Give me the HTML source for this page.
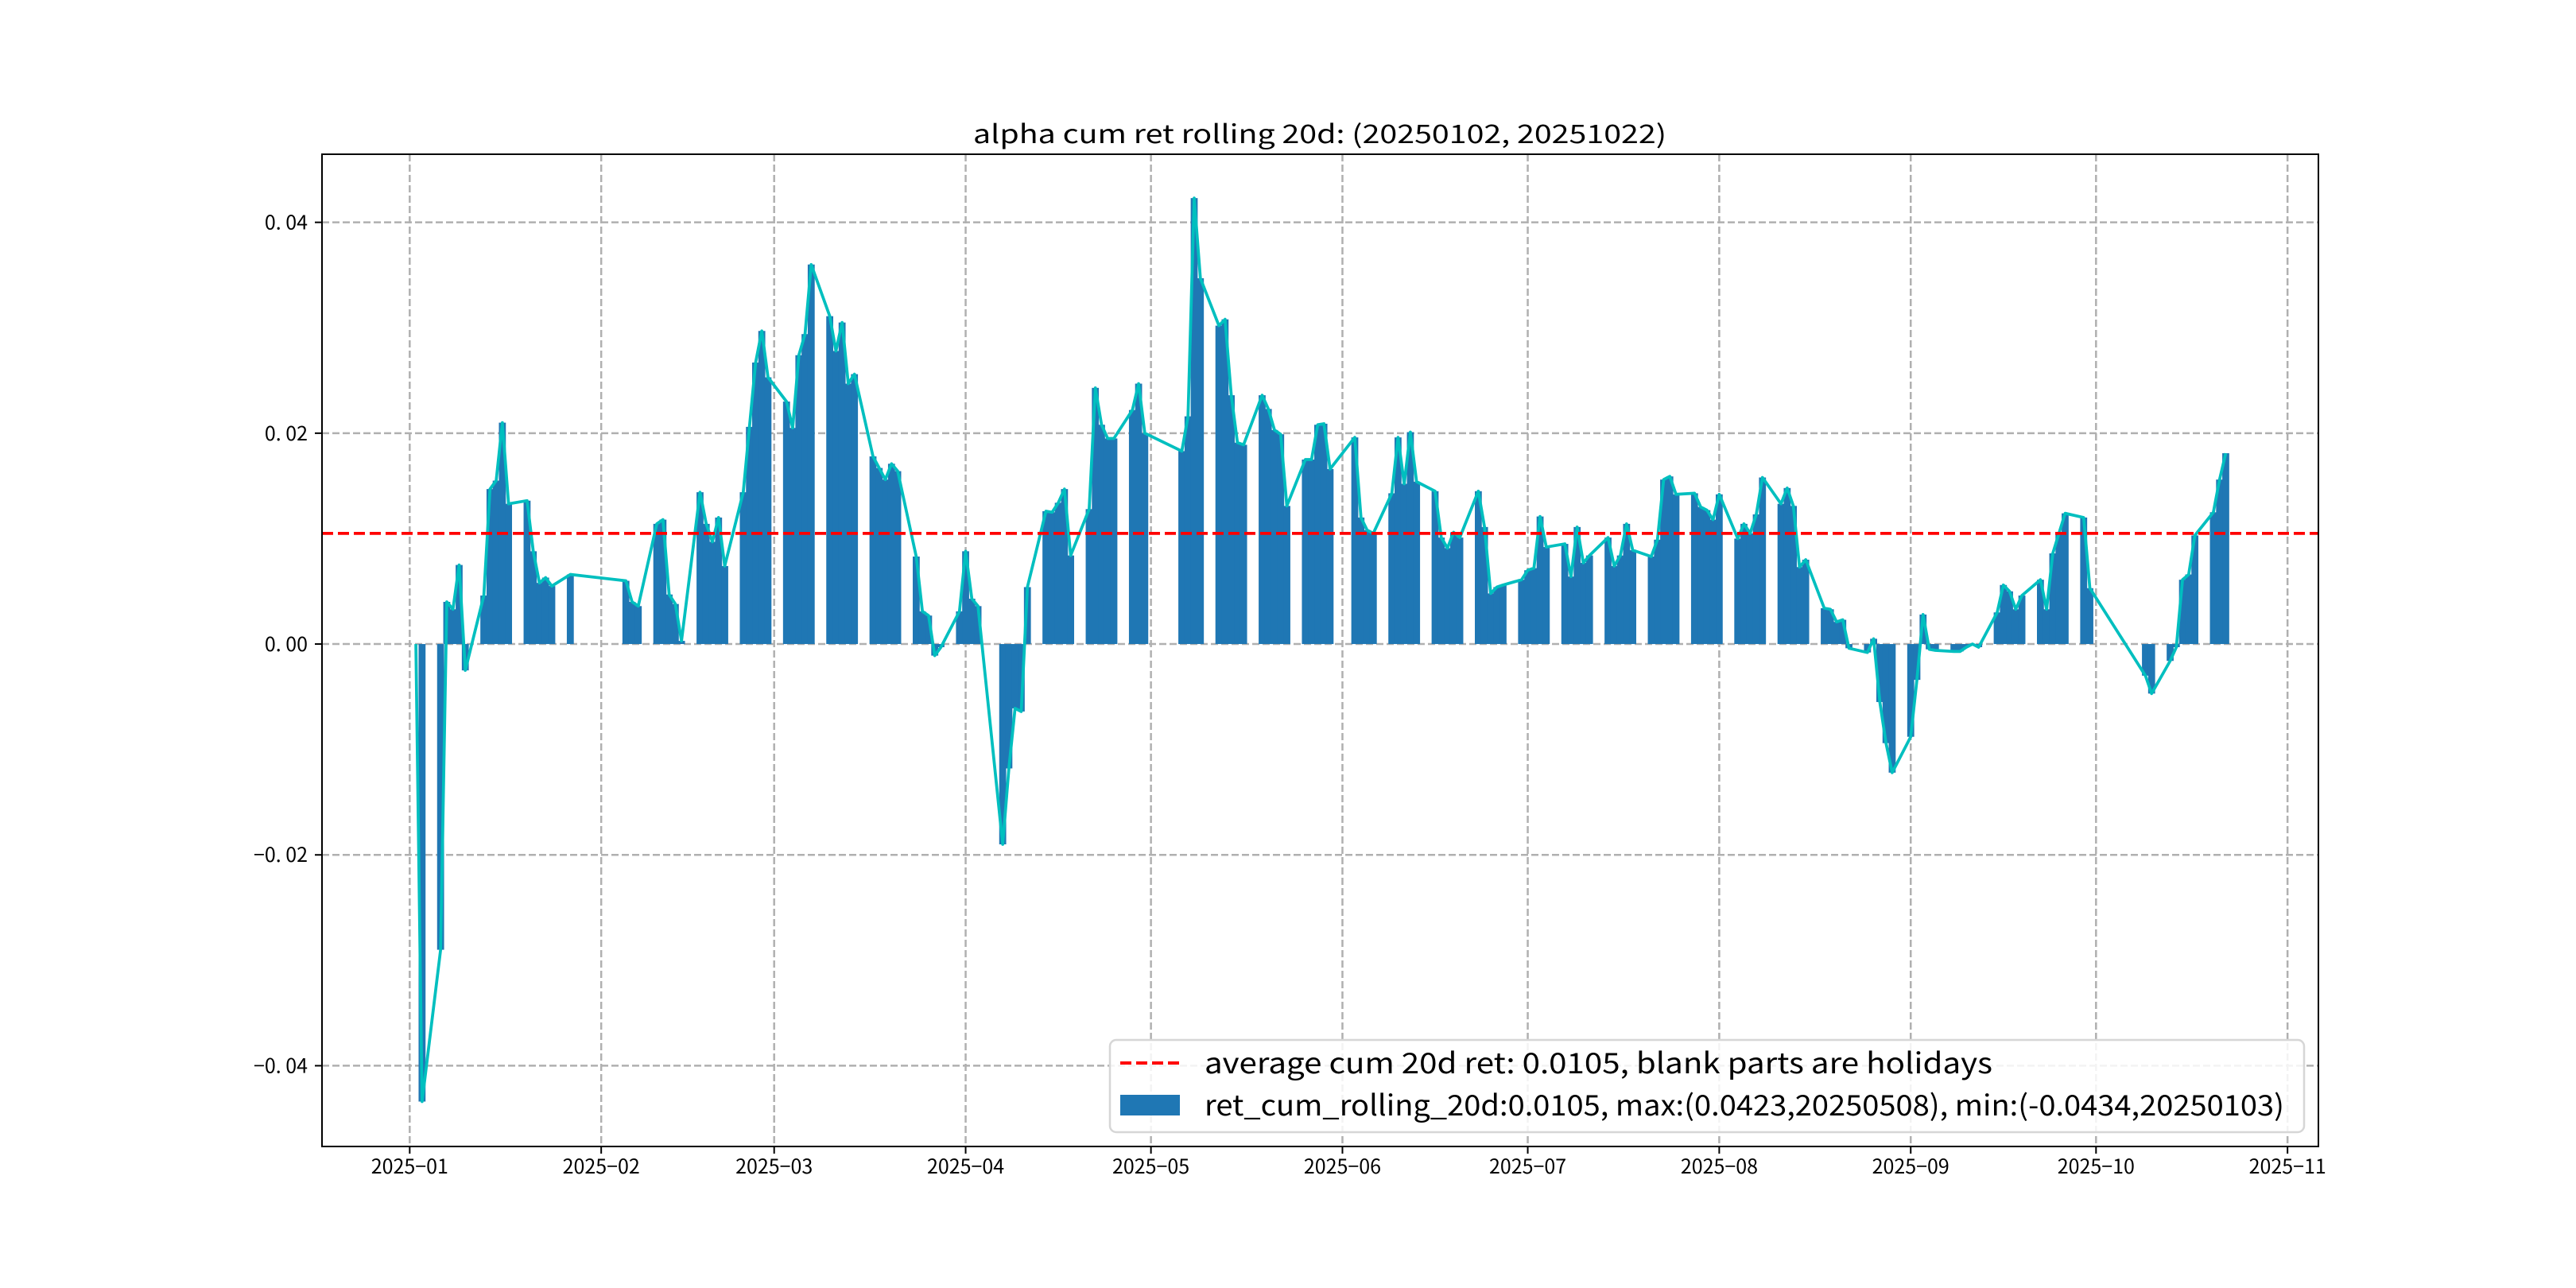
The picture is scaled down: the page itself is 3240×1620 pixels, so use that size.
<!DOCTYPE html>
<html><head><meta charset="utf-8"><title>alpha cum ret rolling 20d</title>
<style>html,body{margin:0;padding:0;background:#fff;}svg{display:block;}
text{font-family:"WenQuanYi Zen Hei","Noto Sans CJK SC","Liberation Sans",sans-serif;}</style></head>
<body>
<svg id="chart" width="3240" height="1620" viewBox="0 0 3240 1620" xmlns="http://www.w3.org/2000/svg">
<rect x="0" y="0" width="3240" height="1620" fill="#fff"/>
<g id="grid"></g>
<g id="bars"></g>
<g id="lines"></g>
<g id="axes"></g>
<text x="1660" y="180" font-size="32" text-anchor="middle" textLength="872" lengthAdjust="spacingAndGlyphs">alpha cum ret rolling 20d: (20250102, 20251022)</text>
<g>
<rect x="1396" y="1308" width="1502" height="116" rx="8" fill="#fff" fill-opacity="0.85" stroke="#d6d6d6" stroke-width="2.5"/>
<line x1="1409" y1="1337" x2="1484" y2="1337" stroke="#ff0000" stroke-width="4" stroke-dasharray="14,6"/>
<text x="1515" y="1350" font-size="36" textLength="991" lengthAdjust="spacingAndGlyphs">average cum 20d ret: 0.0105, blank parts are holidays</text>
<rect x="1409" y="1377" width="75" height="26" fill="#1f77b4"/>
<text x="1515" y="1403" font-size="36" textLength="1358" lengthAdjust="spacingAndGlyphs">ret_cum_rolling_20d:0.0105, max:(0.0423,20250508), min:(-0.0434,20250103)</text>
</g>
</svg>
<script>
const dates = ["2025-01-02","2025-01-03","2025-01-06","2025-01-07","2025-01-08","2025-01-09","2025-01-10","2025-01-13","2025-01-14","2025-01-15","2025-01-16","2025-01-17","2025-01-20","2025-01-21","2025-01-22","2025-01-23","2025-01-24","2025-01-27",
"2025-02-05","2025-02-06","2025-02-07","2025-02-10","2025-02-11","2025-02-12","2025-02-13","2025-02-14","2025-02-17","2025-02-18","2025-02-19","2025-02-20","2025-02-21","2025-02-24","2025-02-25","2025-02-26","2025-02-27","2025-02-28",
"2025-03-03","2025-03-04","2025-03-05","2025-03-06","2025-03-07","2025-03-10","2025-03-11","2025-03-12","2025-03-13","2025-03-14","2025-03-17","2025-03-18","2025-03-19","2025-03-20","2025-03-21","2025-03-24","2025-03-25","2025-03-26","2025-03-27","2025-03-28","2025-03-31",
"2025-04-01","2025-04-02","2025-04-03","2025-04-07","2025-04-08","2025-04-09","2025-04-10","2025-04-11","2025-04-14","2025-04-15","2025-04-16","2025-04-17","2025-04-18","2025-04-21","2025-04-22","2025-04-23","2025-04-24","2025-04-25","2025-04-28","2025-04-29","2025-04-30",
"2025-05-06","2025-05-07","2025-05-08","2025-05-09","2025-05-12","2025-05-13","2025-05-14","2025-05-15","2025-05-16","2025-05-19","2025-05-20","2025-05-21","2025-05-22","2025-05-23","2025-05-26","2025-05-27","2025-05-28","2025-05-29","2025-05-30",
"2025-06-03","2025-06-04","2025-06-05","2025-06-06","2025-06-09","2025-06-10","2025-06-11","2025-06-12","2025-06-13","2025-06-16","2025-06-17","2025-06-18","2025-06-19","2025-06-20","2025-06-23","2025-06-24","2025-06-25","2025-06-26","2025-06-27","2025-06-30",
"2025-07-01","2025-07-02","2025-07-03","2025-07-04","2025-07-07","2025-07-08","2025-07-09","2025-07-10","2025-07-11","2025-07-14","2025-07-15","2025-07-16","2025-07-17","2025-07-18","2025-07-21","2025-07-22","2025-07-23","2025-07-24","2025-07-25","2025-07-28","2025-07-29","2025-07-30","2025-07-31",
"2025-08-01","2025-08-04","2025-08-05","2025-08-06","2025-08-07","2025-08-08","2025-08-11","2025-08-12","2025-08-13","2025-08-14","2025-08-15","2025-08-18","2025-08-19","2025-08-20","2025-08-21","2025-08-22","2025-08-25","2025-08-26","2025-08-27","2025-08-28","2025-08-29",
"2025-09-01","2025-09-02","2025-09-03","2025-09-04","2025-09-05","2025-09-08","2025-09-09","2025-09-10","2025-09-11","2025-09-12","2025-09-15","2025-09-16","2025-09-17","2025-09-18","2025-09-19","2025-09-22","2025-09-23","2025-09-24","2025-09-25","2025-09-26","2025-09-29","2025-09-30",
"2025-10-09","2025-10-10","2025-10-13","2025-10-14","2025-10-15","2025-10-16","2025-10-17","2025-10-20","2025-10-21","2025-10-22"];
const values = [0.0000,-0.0434,-0.0290,0.0040,0.0033,0.0075,-0.0025,0.0046,0.0147,0.0155,0.0210,0.0133,0.0136,0.0088,0.0058,0.0063,0.0055,0.0066,
0.0060,0.0040,0.0036,0.0114,0.0118,0.0047,0.0038,0.0003,0.0144,0.0114,0.0097,0.0120,0.0074,0.0144,0.0206,0.0267,0.0297,0.0253,
0.0230,0.0205,0.0274,0.0294,0.0360,0.0311,0.0278,0.0305,0.0247,0.0256,0.0178,0.0167,0.0156,0.0171,0.0164,0.0083,0.0031,0.0027,-0.0011,-0.0003,0.0031,
0.0088,0.0043,0.0036,-0.0190,-0.0118,-0.0061,-0.0064,0.0054,0.0126,0.0125,0.0134,0.0147,0.0084,0.0128,0.0243,0.0208,0.0195,0.0195,0.0222,0.0247,0.0200,
0.0183,0.0216,0.0423,0.0347,0.0302,0.0308,0.0236,0.0191,0.0189,0.0236,0.0223,0.0203,0.0199,0.0131,0.0175,0.0175,0.0208,0.0209,0.0166,
0.0196,0.0120,0.0108,0.0105,0.0143,0.0196,0.0152,0.0201,0.0154,0.0145,0.0101,0.0091,0.0106,0.0101,0.0145,0.0111,0.0048,0.0054,0.0056,0.0061,
0.0070,0.0072,0.0121,0.0092,0.0095,0.0064,0.0111,0.0077,0.0084,0.0101,0.0074,0.0084,0.0114,0.0089,0.0083,0.0099,0.0156,0.0159,0.0142,0.0143,0.0130,0.0127,0.0118,
0.0142,0.0100,0.0114,0.0105,0.0123,0.0158,0.0133,0.0148,0.0131,0.0073,0.0080,0.0034,0.0033,0.0021,0.0023,-0.0004,-0.0008,0.0005,-0.0055,-0.0094,-0.0122,
-0.0088,-0.0034,0.0028,-0.0005,-0.0006,-0.0007,-0.0007,-0.0003,0.0000,-0.0003,0.0030,0.0056,0.0050,0.0033,0.0046,0.0061,0.0033,0.0086,0.0105,0.0124,0.0120,0.0053,
-0.0030,-0.0047,-0.0016,-0.0003,0.0061,0.0066,0.0103,0.0125,0.0156,0.0181];
const averageValue = [0.0105];
const yTickValues = [0.04, 0.02, 0.00, -0.02, -0.04];
const yTickLabels = ["0. 04","0. 02","0. 00","\u22120. 02","\u22120. 04"];
const xTickDates = ["2025-01-01","2025-02-01","2025-03-01","2025-04-01","2025-05-01","2025-06-01","2025-07-01","2025-08-01","2025-09-01","2025-10-01","2025-11-01"];
const xTickLabels = ["2025\u221201","2025\u221202","2025\u221203","2025\u221204","2025\u221205","2025\u221206","2025\u221207","2025\u221208","2025\u221209","2025\u221210","2025\u221211"];

const NS = "http://www.w3.org/2000/svg";
const L = 405, R = 2916, T = 194, B = 1442;
const X0 = -14.2, X1 = 309.0, Y0 = -0.04766, Y1 = 0.04646;
function dayOf(s){const p=s.split('-');return (Date.UTC(+p[0],+p[1]-1,+p[2])-Date.UTC(2025,0,1))/86400000;}
function xs(d){return L+(d-X0)/(X1-X0)*(R-L);}
function ys(v){return B-(v-Y0)/(Y1-Y0)*(B-T);}
function mk(tag, attrs, parent){const e=document.createElementNS(NS,tag);for(const k in attrs)e.setAttribute(k,attrs[k]);parent.appendChild(e);return e;}
const grid=document.getElementById('grid'), bars=document.getElementById('bars'), lines=document.getElementById('lines'), axes=document.getElementById('axes');

xTickDates.forEach((d,i)=>{
  const x=xs(dayOf(d));
  const g=mk('line',{x1:x,y1:T,x2:x,y2:B,stroke:'#b0b0b0','stroke-width':2.5,'stroke-dasharray':'9,4'},grid);
  
  
  const t=mk('line',{x1:x,y1:B,x2:x,y2:B+9,stroke:'#000','stroke-width':2},axes);
  
  
  const tx=mk('text',{x:x,y:1476,'font-size':25,'text-anchor':'middle'},axes);
  tx.textContent=xTickLabels[i];
  
  
});
yTickValues.forEach((v,i)=>{
  const y=ys(v);
  const g=mk('line',{x1:L,y1:y,x2:R,y2:y,stroke:'#b0b0b0','stroke-width':2.5,'stroke-dasharray':'9,4'},grid);
  
  
  const t=mk('line',{x1:L-9,y1:y,x2:L,y2:y,stroke:'#000','stroke-width':2},axes);
  
  
  const tx=mk('text',{x:387,y:y+9,'font-size':25,'text-anchor':'end'},axes);
  tx.textContent=yTickLabels[i];
  
  
});

const bw = (R-L)/(X1-X0);
const pts=[];
dates.forEach((d,i)=>{
  const x=xs(dayOf(d)), y=ys(values[i]), y0=ys(0);
  const r=mk('rect',{x:x-bw/2-0.5,y:Math.min(y,y0),width:bw+1,height:Math.abs(y-y0),fill:'#1f77b4'},bars);
  
  
  pts.push(x.toFixed(2)+','+y.toFixed(2));
});
const pl=mk('polyline',{points:pts.join(' '),fill:'none',stroke:'#00bfbf','stroke-width':3.75,'stroke-linejoin':'round'},lines);


const ya=ys(averageValue[0]);
const al=mk('line',{x1:L,y1:ya,x2:R,y2:ya,stroke:'#ff0000','stroke-width':3.75,'stroke-dasharray':'14,6'},lines);



const fr=mk('rect',{x:L,y:T,width:R-L,height:B-T,fill:'none',stroke:'#000','stroke-width':2},axes);


</script>
</body></html>
